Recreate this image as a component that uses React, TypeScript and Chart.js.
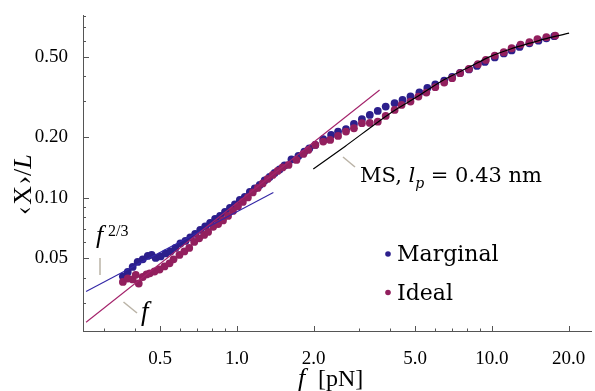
import React, { useEffect, useRef } from "react";
import { Chart, registerables } from "chart.js";

Chart.register(...registerables);

// force f [pN] and relative extension <X>/L
const marginalForce = [0.357,0.373,0.390,0.408,0.427,0.447,0.463,0.480,0.502,0.525,0.549,0.574,0.600,0.628,0.656,0.686,0.718,0.751,0.785,0.821,0.859,0.898,0.939,0.982,1.027,1.074,1.124,1.175,1.229,1.285,1.344,1.406,1.470,1.538,1.637,1.743,1.839,1.923,2.030,2.181,2.342,2.494,2.679,2.878,3.093,3.322,3.569,3.835,4.157,4.465,4.797,5.200,5.586,6.001,6.505,6.989,7.508,8.137,8.742,9.393,10.27,11.14,11.96,12.85,14.05,15.24,16.37,17.58];
const marginalExt = [0.0407,0.0428,0.0453,0.0480,0.0494,0.0514,0.0520,0.0502,0.0511,0.0529,0.0541,0.0563,0.0593,0.0610,0.0635,0.0661,0.0692,0.0720,0.0749,0.0784,0.0811,0.0849,0.0889,0.0925,0.0974,0.1008,0.1067,0.1111,0.1156,0.1217,0.1267,0.1326,0.1380,0.1444,0.1547,0.1610,0.1691,0.1754,0.1826,0.1949,0.2046,0.2125,0.2184,0.2321,0.2448,0.2572,0.2692,0.2828,0.2940,0.3053,0.3177,0.3326,0.3501,0.3644,0.3806,0.3970,0.4156,0.4325,0.4502,0.4712,0.4960,0.5193,0.5374,0.5593,0.5822,0.6004,0.6164,0.6320];

const idealForce = [0.357,0.373,0.390,0.401,0.412,0.427,0.442,0.455,0.475,0.497,0.520,0.544,0.564,0.595,0.622,0.650,0.680,0.711,0.744,0.771,0.807,0.844,0.882,0.923,0.965,1.009,1.055,1.104,1.154,1.207,1.262,1.320,1.381,1.444,1.510,1.594,1.712,1.823,1.906,2.030,2.181,2.322,2.494,2.679,2.878,3.093,3.322,3.569,3.835,4.157,4.425,4.797,5.153,5.536,6.001,6.505,6.989,7.508,8.137,8.821,9.478,10.27,11.14,11.96,12.97,14.05,15.10,16.37,17.74];
const idealExt = [0.0382,0.0397,0.0393,0.0414,0.0375,0.0404,0.0416,0.0421,0.0430,0.0440,0.0456,0.0472,0.0494,0.0520,0.0541,0.0563,0.0603,0.0628,0.0653,0.0676,0.0716,0.0740,0.0771,0.0811,0.0859,0.0904,0.0952,0.1002,0.1061,0.1117,0.1176,0.1238,0.1296,0.1356,0.1412,0.1453,0.1538,0.1647,0.1724,0.1826,0.1896,0.1933,0.2023,0.2125,0.2209,0.2339,0.2347,0.2382,0.2543,0.2723,0.2883,0.2994,0.3170,0.3318,0.3529,0.3719,0.3911,0.4141,0.4350,0.4589,0.4820,0.5063,0.5262,0.5508,0.5740,0.5899,0.6106,0.6247,0.6363];

// guide lines (end points) and MS model curve
const powerForce = [0.256, 1.39];
const powerExt = [0.0342, 0.106];
const linearForce = [0.256, 3.63];
const linearExt = [0.0241, 0.342];
const msForce = [1.994, 2.655, 4.01, 5.107, 6.49, 8.233, 9.849, 11.78, 14.09, 16.86, 20.1];
const msExt = [0.1387, 0.1795, 0.263, 0.317, 0.384, 0.4466, 0.5006, 0.5447, 0.5834, 0.6218, 0.654];

const xTicks = [0.5, 1, 2, 5, 10, 20];
const yTicks = [0.05, 0.1, 0.2, 0.5];
const xMinorTicks = [0.3, 0.4, 0.6, 0.7, 0.8, 0.9, 3, 4, 6, 7, 8, 9];
const yMinorTicks = [0.03, 0.04, 0.06, 0.07, 0.08, 0.09, 0.3, 0.4, 0.6, 0.7, 0.8];

const BLUE = "#2c1f8c";
const MAGENTA = "#921f5e";
const AXIS = "#555555";
const LEADER = "#bab3a6";
const SERIF = "'Liberation Serif', serif";
const LABEL = "'DejaVu Serif', serif";

const zip = (xs: number[], ys: number[]) => xs.map((x, i) => ({ x, y: ys[i] }));

const decorPlugin = {
  id: "decor",
  afterDraw(chart: any) {
    const ctx = chart.ctx as CanvasRenderingContext2D;
    const xs = chart.scales.x;
    const ys = chart.scales.y;
    const { left, bottom } = chart.chartArea;
    ctx.save();
    // inward ticks
    ctx.strokeStyle = AXIS;
    ctx.lineWidth = 1;
    const xTick = (v: number, len: number) => {
      const p = Math.round(xs.getPixelForValue(v)) + 0.5;
      ctx.beginPath();
      ctx.moveTo(p, bottom);
      ctx.lineTo(p, bottom - len);
      ctx.stroke();
    };
    const yTick = (v: number, len: number) => {
      const p = Math.round(ys.getPixelForValue(v)) + 0.5;
      ctx.beginPath();
      ctx.moveTo(left, p);
      ctx.lineTo(left + len, p);
      ctx.stroke();
    };
    xTicks.forEach((v) => xTick(v, 5));
    xMinorTicks.forEach((v) => xTick(v, 2.5));
    yTicks.forEach((v) => yTick(v, 6));
    yMinorTicks.forEach((v) => yTick(v, 3));

    // leader lines
    ctx.strokeStyle = LEADER;
    ctx.lineWidth = 1.5;
    const seg = (a: number, b: number, c: number, d: number) => {
      ctx.beginPath();
      ctx.moveTo(a, b);
      ctx.lineTo(c, d);
      ctx.stroke();
    };
    seg(100, 258, 100, 275);
    seg(123.5, 302, 137, 313);
    seg(343, 157, 355, 167);

    ctx.fillStyle = "#000";
    ctx.textBaseline = "alphabetic";
    ctx.textAlign = "left";
    // f^{2/3}
    ctx.font = `italic 26px ${SERIF}`;
    ctx.fillText("f", 96, 243);
    ctx.font = `16px ${SERIF}`;
    ctx.fillText("2/3", 108, 236);
    // f
    ctx.font = `italic 27px ${SERIF}`;
    ctx.fillText("f", 141, 320);

    // MS label
    let x = 360;
    const put = (t: string, font: string, y: number) => {
      ctx.font = font;
      ctx.fillText(t, x, y);
      x += ctx.measureText(t).width;
    };
    put("MS, ", `21px ${LABEL}`, 182);
    put("l", `italic 21px ${LABEL}`, 182);
    put("p", `italic 14px ${LABEL}`, 188);
    put(" = 0.43 nm", `21px ${LABEL}`, 182);

    // legend
    ctx.fillStyle = BLUE;
    ctx.beginPath();
    ctx.arc(388, 254, 2.8, 0, Math.PI * 2);
    ctx.fill();
    ctx.fillStyle = MAGENTA;
    ctx.beginPath();
    ctx.arc(388, 292.5, 2.8, 0, Math.PI * 2);
    ctx.fill();
    ctx.fillStyle = "#000";
    ctx.font = `22px ${LABEL}`;
    ctx.fillText("Marginal", 397, 261);
    ctx.fillText("Ideal", 397, 300);

    // x axis title
    ctx.font = `italic 26px ${SERIF}`;
    ctx.fillText("f", 298, 386);
    ctx.font = `24px ${SERIF}`;
    ctx.fillText("[pN]", 318, 386);

    // y axis title
    ctx.translate(31, 215);
    ctx.rotate(-Math.PI / 2);
    let tx = 0;
    const putR = (t: string, font: string) => {
      ctx.font = font;
      ctx.fillText(t, tx, 0);
      tx += ctx.measureText(t).width;
    };
    putR("\u2039", `26px ${SERIF}`);
    tx += 1.5;
    putR("X", `26px ${SERIF}`);
    tx += 1.5;
    putR("\u203A", `26px ${SERIF}`);
    putR("/", `26px ${SERIF}`);
    putR("L", `italic 26px ${SERIF}`);
    ctx.restore();
  },
};

export default function App() {
  const ref = useRef<HTMLCanvasElement | null>(null);
  useEffect(() => {
    if (!ref.current) return;
    const chart = new Chart(ref.current, {
      type: "scatter",
      data: {
        datasets: [
          {
            label: "Marginal",
            data: zip(marginalForce, marginalExt),
            backgroundColor: BLUE,
            borderWidth: 0,
            pointRadius: 3.9,
            order: 5,
          },
          {
            label: "Ideal",
            data: zip(idealForce, idealExt),
            backgroundColor: MAGENTA,
            borderWidth: 0,
            pointRadius: 3.9,
            order: 4,
          },
          {
            label: "f^2/3",
            data: zip(powerForce, powerExt),
            showLine: true,
            borderColor: "#3327a6",
            borderWidth: 1.1,
            pointRadius: 0,
            order: 3,
          },
          {
            label: "f",
            data: zip(linearForce, linearExt),
            showLine: true,
            borderColor: "#a3226a",
            borderWidth: 1.1,
            pointRadius: 0,
            order: 2,
          },
          {
            label: "MS",
            data: zip(msForce, msExt),
            showLine: true,
            borderColor: "#000000",
            borderWidth: 1.2,
            pointRadius: 0,
            tension: 0.3,
            order: 1,
          },
        ],
      } as any,
      options: {
        responsive: false,
        animation: false,
        events: [],
        layout: { padding: { top: 15, left: 0, right: 0, bottom: 0 } },
        plugins: { legend: { display: false }, tooltip: { enabled: false } },
        scales: {
          x: {
            type: "logarithmic",
            min: 0.249,
            max: 24.5,
            afterBuildTicks: (s: any) => {
              s.ticks = xTicks.map((v) => ({ value: v }));
            },
            afterFit: (s: any) => {
              s.height = 60;
              s.paddingLeft = 0;
              s.paddingRight = 0;
            },
            ticks: {
              callback: (v: any) => Number(v).toFixed(1),
              font: { family: SERIF, size: 19 },
              color: "#000",
              padding: 9,
              autoSkip: false,
              maxRotation: 0,
            },
            grid: { display: false },
            border: { display: true, color: AXIS, width: 1 },
          },
          y: {
            type: "logarithmic",
            min: 0.0218,
            max: 0.805,
            afterBuildTicks: (s: any) => {
              s.ticks = yTicks.map((v) => ({ value: v }));
            },
            afterFit: (s: any) => {
              s.width = 83;
              s.paddingTop = 0;
              s.paddingBottom = 0;
            },
            ticks: {
              callback: (v: any) => Number(v).toFixed(2),
              font: { family: SERIF, size: 19 },
              color: "#000",
              padding: 7,
              autoSkip: false,
            },
            grid: { display: false },
            border: { display: true, color: AXIS, width: 1 },
          },
        },
      } as any,
      plugins: [decorPlugin],
    });
    return () => chart.destroy();
  }, []);
  return (
    <div style={{ position: "absolute", left: 0, top: 0, width: 595, height: 391, background: "#fff" }}>
      <canvas ref={ref} width={595} height={391} style={{ display: "block" }} />
    </div>
  );
}
